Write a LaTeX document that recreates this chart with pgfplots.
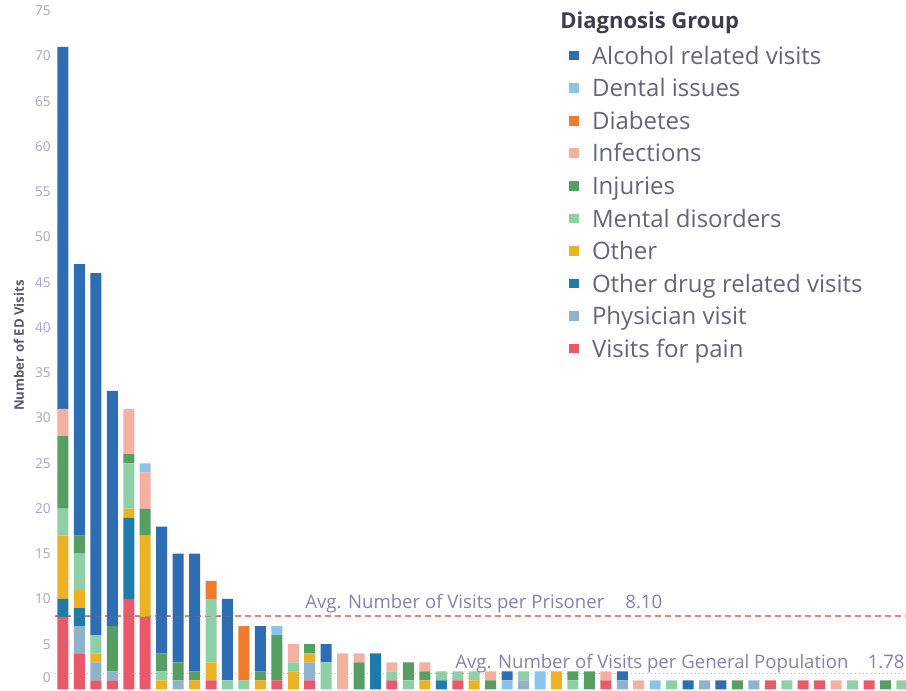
\documentclass[border=0pt]{standalone}
\usepackage{fontspec}
\setmainfont{Open Sans}
\usepackage{pgfplots}
\pgfplotsset{compat=1.18}
\usepackage{pgfplotstable}
\definecolor{calc}{HTML}{2C6DB4}
\definecolor{cdent}{HTML}{8CC3EA}
\definecolor{cdiab}{HTML}{EF7B2D}
\definecolor{cinf}{HTML}{F4B0A0}
\definecolor{cinj}{HTML}{579E63}
\definecolor{cment}{HTML}{8ECFA6}
\definecolor{coth}{HTML}{EDB124}
\definecolor{cdrug}{HTML}{1F7BAA}
\definecolor{cphys}{HTML}{8FB3CB}
\definecolor{cpain}{HTML}{E8596A}
\definecolor{tickcol}{HTML}{A6A3C4}
\definecolor{legtxt}{HTML}{656578}
\definecolor{avgtxt}{HTML}{8880AA}
\definecolor{avgline}{HTML}{EF7F7F}
\definecolor{titlecol}{HTML}{3D3D4D}
\definecolor{ylabcol}{HTML}{5A5A6E}

\pgfplotstableread{
k pain phys odrug other mental inj infec diab dental alc
0 8 0 2 7 3 8 3 0 0 40
1 4 3 2 2 4 2 0 0 0 30
2 1 2 0 1 2 0 0 0 0 40
3 1 1 0 0 0 5 0 0 0 26
4 10 0 9 1 5 1 5 0 0 0
5 8 0 0 9 0 3 4 0 1 0
6 0 0 0 1 1 2 0 0 0 14
7 0 1 0 0 0 2 0 0 0 12
8 0 0 0 1 0 1 0 0 0 13
9 1 0 0 2 7 0 0 2 0 0
10 0 0 0 0 1 0 0 0 0 9
11 0 0 0 0 1 0 0 6 0 0
12 0 0 0 1 0 1 0 0 0 5
13 1 0 0 0 0 5 0 0 1 0
14 0 0 0 2 1 0 2 0 0 0
15 1 2 0 1 0 1 0 0 0 0
16 0 0 0 0 3 0 0 0 0 2
17 0 0 0 0 0 0 4 0 0 0
18 0 0 0 0 0 3 1 0 0 0
19 0 0 4 0 0 0 0 0 0 0
20 1 0 0 0 1 0 1 0 0 0
21 0 0 0 0 1 2 0 0 0 0
22 0 0 0 1 0 1 1 0 0 0
23 0 0 1 0 1 0 0 0 0 0
24 1 0 0 0 1 0 0 0 0 0
25 0 0 0 1 1 0 0 0 0 0
26 0 0 0 0 0 1 1 0 0 0
27 0 0 0 0 0 0 0 0 1 1
28 0 1 0 0 1 0 0 0 0 0
29 0 0 0 0 0 0 0 0 2 0
30 0 0 0 2 0 0 0 0 0 0
31 0 0 0 0 1 1 0 0 0 0
32 0 0 0 0 0 2 0 0 0 0
33 1 0 0 0 0 0 1 0 0 0
34 0 1 0 0 0 0 0 0 0 1
35 0 0 0 0 0 0 1 0 0 0
36 0 0 0 0 0 0 0 0 1 0
37 0 0 0 0 1 0 0 0 0 0
38 0 0 0 0 0 0 0 0 0 1
39 0 1 0 0 0 0 0 0 0 0
40 0 0 0 0 0 0 0 0 0 1
41 0 0 0 0 0 1 0 0 0 0
42 0 1 0 0 0 0 0 0 0 0
43 1 0 0 0 0 0 0 0 0 0
44 0 0 0 0 1 0 0 0 0 0
45 1 0 0 0 0 0 0 0 0 0
46 1 0 0 0 0 0 0 0 0 0
47 0 0 0 0 0 0 1 0 0 0
48 0 0 0 0 1 0 0 0 0 0
49 1 0 0 0 0 0 0 0 0 0
50 0 0 0 0 0 1 0 0 0 0
51 0 0 0 0 1 0 0 0 0 0
}\datatable

\pgfplotsset{
  common/.style={
    at={(27.5pt,0pt)}, anchor=south west,
    scale only axis, width=425.5pt, height=345.5pt,
    xmin=-0.486, xmax=51.25, ymin=-0.166, ymax=76.19,
  }
}

\begin{document}
\begin{tikzpicture}[x=1pt,y=1pt]
\useasboundingbox (0,0) rectangle (453,345.5);

% reference lines (behind bars)
\begin{axis}[common, hide axis]
\addplot[draw=avgline, line width=1pt, dash pattern=on 3pt off 2pt] coordinates {(-0.5,8.1) (51.3,8.1)};
\addplot[draw=black!25, line width=0.6pt, dash pattern=on 0.8pt off 1.2pt] coordinates {(-0.5,1.78) (51.3,1.78)};
\end{axis}

% stacked bars
\begin{axis}[common,
  ybar stacked, bar width=5.5pt,
  axis lines=left, axis line style={draw=none,-},
  xtick=\empty, ytick={5,10,...,75},
  extra y ticks={0}, extra y tick style={yticklabel style={yshift=5.75pt}},
  major tick length=0pt, tick style={draw=none},
  yticklabel style={font=\fontsize{6.8}{8}\selectfont, text=tickcol, inner sep=0pt, xshift=-2pt, anchor=east},
  /pgf/number format/assume math mode=true,
  reverse legend,
  every axis plot post/.append style={legend image code/.code={\fill[##1, draw=none] (0pt,-1.1pt) rectangle (4.8pt,3.7pt); \path (11.5pt,0pt);}},
  legend style={at={(0.6040,0.93314)}, anchor=north west, draw=none, fill=none,
    inner sep=0pt, outer sep=0pt, row sep=4.28pt, column sep=0pt,
    font=\fontsize{12}{14}\selectfont, text=legtxt,
    nodes={inner sep=0pt, text height=9pt, text depth=3pt}},
  legend cell align=left,
]
\addplot[fill=cpain, draw=none] table[x=k, y=pain] {\datatable};
\addplot[fill=cphys, draw=none] table[x=k, y=phys] {\datatable};
\addplot[fill=cdrug, draw=none] table[x=k, y=odrug] {\datatable};
\addplot[fill=coth, draw=none] table[x=k, y=other] {\datatable};
\addplot[fill=cment, draw=none] table[x=k, y=mental] {\datatable};
\addplot[fill=cinj, draw=none] table[x=k, y=inj] {\datatable};
\addplot[fill=cinf, draw=none] table[x=k, y=infec] {\datatable};
\addplot[fill=cdiab, draw=none] table[x=k, y=diab] {\datatable};
\addplot[fill=cdent, draw=none] table[x=k, y=dental] {\datatable};
\addplot[fill=calc, draw=none] table[x=k, y=alc] {\datatable};
\legend{Visits for pain, Physician visit, Other drug related visits, Other, Mental disorders, Injuries, Infections, Diabetes, Dental issues, Alcohol related visits}
\end{axis}

% faint overlay of the reference line over the tall bars
\begin{axis}[common, hide axis]
\addplot[draw=black!55, opacity=0.45, line width=0.6pt, dash pattern=on 3pt off 2pt] coordinates {(-0.5,8.1) (10.4,8.1)};
\end{axis}

% texts
\node[anchor=base west, inner sep=0pt, font=\fontsize{9.3}{11}\selectfont, text=avgtxt] at (152.5,41.35) {Avg. Number of Visits per Prisoner};
\node[anchor=base west, inner sep=0pt, font=\fontsize{9.3}{11}\selectfont, text=avgtxt] at (312.5,41.35) {8.10};
\node[anchor=base west, inner sep=0pt, font=\fontsize{9.3}{11}\selectfont, text=avgtxt] at (227.5,11.35) {Avg. Number of Visits per General Population};
\node[anchor=base east, inner sep=0pt, font=\fontsize{9.3}{11}\selectfont, text=avgtxt] at (452.5,11.35) {1.78};
\node[anchor=base west, inner sep=0pt, font=\bfseries\fontsize{11}{13}\selectfont, text=titlecol] at (280,331.35) {Diagnosis Group};
\node[rotate=90, inner sep=0pt, font=\bfseries\fontsize{6.6}{9}\selectfont, text=ylabcol] at (9.5,172.75) {Number of ED Visits};
\end{tikzpicture}
\end{document}
